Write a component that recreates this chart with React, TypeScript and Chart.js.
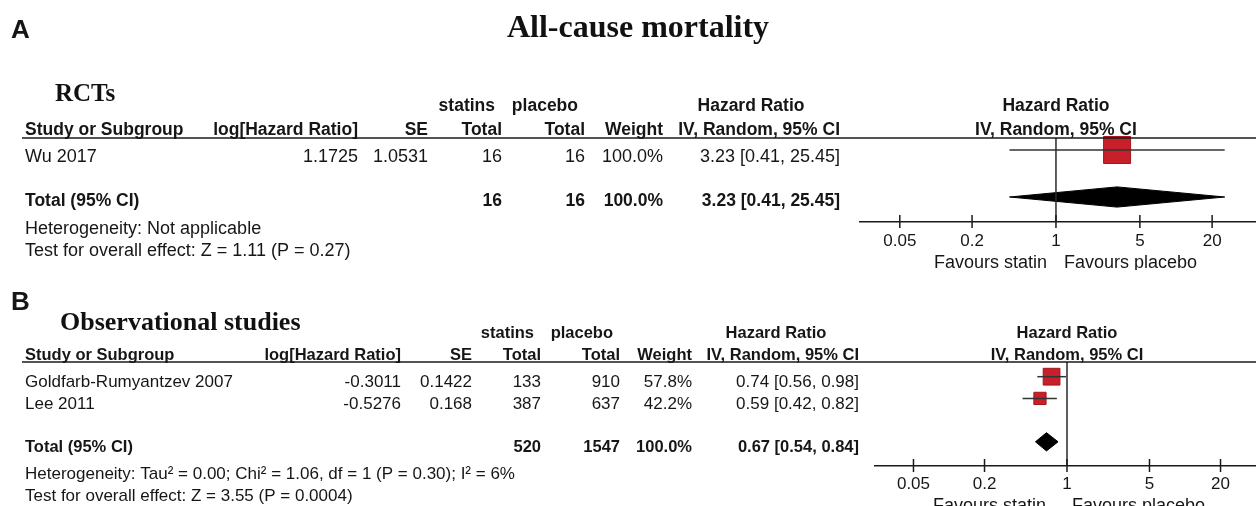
import React, { useEffect, useRef } from 'react';
import { Chart, registerables } from 'chart.js';

Chart.register(...registerables);

const SANS = '"Liberation Sans", Arial, sans-serif';
const SERIF = '"Liberation Serif", "Times New Roman", serif';

// ---------------- Data: panel A (RCTs) ----------------
const A_STUDIES = ['Wu 2017'];
const A_LOG_HR = ['1.1725'];
const A_SE = ['1.0531'];
const A_STATINS_N = [16];
const A_PLACEBO_N = [16];
const A_WEIGHT = [100.0];
const A_HR = [3.23];
const A_CI_LOW = [0.41];
const A_CI_HIGH = [25.45];
const A_TOTAL_N = [16, 16];
const A_TOTAL_WEIGHT = [100.0];
const A_TOTAL_HR = [3.23, 0.41, 25.45];
const A_HETEROGENEITY = 'Heterogeneity: Not applicable';
const A_OVERALL = 'Test for overall effect: Z = 1.11 (P = 0.27)';

// ---------------- Data: panel B (Observational studies) ----------------
const B_STUDIES = ['Goldfarb-Rumyantzev 2007', 'Lee 2011'];
const B_LOG_HR = ['-0.3011', '-0.5276'];
const B_SE = ['0.1422', '0.168'];
const B_STATINS_N = [133, 387];
const B_PLACEBO_N = [910, 637];
const B_WEIGHT = [57.8, 42.2];
const B_HR = [0.74, 0.59];
const B_CI_LOW = [0.56, 0.42];
const B_CI_HIGH = [0.98, 0.82];
const B_TOTAL_N = [520, 1547];
const B_TOTAL_WEIGHT = [100.0];
const B_TOTAL_HR = [0.67, 0.54, 0.84];
const B_HETEROGENEITY = 'Heterogeneity: Tau² = 0.00; Chi² = 1.06, df = 1 (P = 0.30); I² = 6%';
const B_OVERALL = 'Test for overall effect: Z = 3.55 (P = 0.0004)';

// ---------------- Shared labels ----------------
const X_TICKS = [0.05, 0.2, 1, 5, 20];
const MAIN_TITLE = 'All-cause mortality';
const COL_HEADERS = ['Study or Subgroup', 'log[Hazard Ratio]', 'SE', 'Total', 'Total', 'Weight', 'IV, Random, 95% CI'];
const GROUP_HEADERS = ['statins', 'placebo', 'Hazard Ratio'];
const PLOT_HEADERS = ['Hazard Ratio', 'IV, Random, 95% CI'];
const FAVOURS = ['Favours statin', 'Favours placebo'];
const TOTAL_LABEL = 'Total (95% CI)';

const DATA_A = {
  studies: A_STUDIES, logHr: A_LOG_HR, se: A_SE, statins: A_STATINS_N, placebo: A_PLACEBO_N,
  weight: A_WEIGHT, hr: A_HR, lo: A_CI_LOW, hi: A_CI_HIGH,
  totalN: A_TOTAL_N, totalWeight: A_TOTAL_WEIGHT, totalHr: A_TOTAL_HR,
  het: A_HETEROGENEITY, overall: A_OVERALL,
};
const DATA_B = {
  studies: B_STUDIES, logHr: B_LOG_HR, se: B_SE, statins: B_STATINS_N, placebo: B_PLACEBO_N,
  weight: B_WEIGHT, hr: B_HR, lo: B_CI_LOW, hi: B_CI_HIGH,
  totalN: B_TOTAL_N, totalWeight: B_TOTAL_WEIGHT, totalHr: B_TOTAL_HR,
  het: B_HETEROGENEITY, overall: B_OVERALL,
};

// ---------------- Layout (pixels) ----------------
const LAYOUT_A = {
  height: 270,
  letter: 'A', letterY: 29,
  showTitle: true, titleY: 26,
  section: 'RCTs', sectionX: 55, sectionY: 93, sectionSize: 25,
  plotLeft: 860, headerY: 138, axisY: 222,
  xMin: 0.0233, xMax: 46.4,
  yMin: -0.51, yMax: 3.064,
  cols: [358, 428, 502, 585, 663, 840],
  groupRight: [495, 578], hrCenter: 751,
  h1Y: 105, h2Y: 129,
  rowTextY0: 156, rowTextStep: 22, totalTextY: 200, hetY: 228, testY: 250,
  fontR: 18, fontB: 17.5, fontFav: 18, tickPad: 9, favoursY: 262, favoursGap: [9, 8],
  sq: 0.27, diamondHalf: 0.43,
};
const LAYOUT_B = {
  height: 236,
  letter: 'B', letterY: 31,
  showTitle: false, titleY: 0,
  section: 'Observational studies', sectionX: 60, sectionY: 51, sectionSize: 26,
  plotLeft: 875, headerY: 92, axisY: 196,
  xMin: 0.0236, xMax: 39.96,
  yMin: -0.677, yMax: 4.115,
  cols: [401, 472, 541, 620, 692, 859],
  groupRight: [534, 613], hrCenter: 776,
  h1Y: 62, h2Y: 84,
  rowTextY0: 111, rowTextStep: 22, totalTextY: 176, hetY: 203, testY: 225,
  fontR: 17, fontB: 16.5, fontFav: 18, tickPad: 8, favoursY: 235, favoursGap: [21, 5],
  sq: 0.29, diamondHalf: 0.42,
};

const TEXT = '#161616';

function txt(ctx, s, x, cy, size, opts: any = {}) {
  const family = opts.family || SANS;
  const weight = opts.bold ? 'bold ' : '';
  ctx.font = `${weight}${size}px ${family}`;
  ctx.fillStyle = opts.color || TEXT;
  ctx.textAlign = opts.align || 'left';
  ctx.textBaseline = 'alphabetic';
  const cap = family === SERIF ? 0.662 : 0.716;
  ctx.fillText(s, x, cy + (cap * size) / 2);
}

function hline(ctx, x0, y0, x1, y1, w = 1.5, color = '#1a1a1a') {
  ctx.beginPath();
  ctx.strokeStyle = color;
  ctx.lineWidth = w;
  ctx.moveTo(x0, y0);
  ctx.lineTo(x1, y1);
  ctx.stroke();
}

const fmtHr = (v: number[]) => `${v[0].toFixed(2)} [${v[1].toFixed(2)}, ${v[2].toFixed(2)}]`;

function makeTextPlugin(D, L) {
  return {
    id: 'forestText',
    afterDraw(chart) {
      const ctx = chart.ctx;
      const xs = chart.scales.x;
      const area = chart.chartArea;
      const x1 = xs.getPixelForValue(1);
      const W = chart.width;
      const R = L.fontR;
      const HB = L.fontB;
      ctx.save();
      // panel letter, titles
      txt(ctx, L.letter, 11, L.letterY, 26, { bold: true });
      if (L.showTitle) txt(ctx, MAIN_TITLE, 638, L.titleY, 32, { bold: true, family: SERIF, align: 'center', color: '#111' });
      txt(ctx, L.section, L.sectionX, L.sectionY, L.sectionSize, { bold: true, family: SERIF, color: '#111' });

      // header line
      hline(ctx, 22, L.headerY, W, L.headerY, 1.5);

      // header row 1
      txt(ctx, GROUP_HEADERS[0], L.groupRight[0], L.h1Y, HB, { bold: true, align: 'right' });
      txt(ctx, GROUP_HEADERS[1], L.groupRight[1], L.h1Y, HB, { bold: true, align: 'right' });
      txt(ctx, GROUP_HEADERS[2], L.hrCenter, L.h1Y, HB, { bold: true, align: 'center' });
      txt(ctx, PLOT_HEADERS[0], x1, L.h1Y, HB, { bold: true, align: 'center' });
      // header row 2
      txt(ctx, COL_HEADERS[0], 25, L.h2Y, HB, { bold: true });
      for (let c = 1; c < COL_HEADERS.length; c++) {
        txt(ctx, COL_HEADERS[c], L.cols[c - 1], L.h2Y, HB, { bold: true, align: 'right' });
      }
      txt(ctx, PLOT_HEADERS[1], x1, L.h2Y, HB, { bold: true, align: 'center' });

      // study rows
      D.studies.forEach((name, i) => {
        const y = L.rowTextY0 + i * L.rowTextStep;
        txt(ctx, name, 25, y, R);
        txt(ctx, D.logHr[i], L.cols[0], y, R, { align: 'right' });
        txt(ctx, D.se[i], L.cols[1], y, R, { align: 'right' });
        txt(ctx, String(D.statins[i]), L.cols[2], y, R, { align: 'right' });
        txt(ctx, String(D.placebo[i]), L.cols[3], y, R, { align: 'right' });
        txt(ctx, `${D.weight[i].toFixed(1)}%`, L.cols[4], y, R, { align: 'right' });
        txt(ctx, fmtHr([D.hr[i], D.lo[i], D.hi[i]]), L.cols[5], y, R, { align: 'right' });
      });

      // total row
      const ty = L.totalTextY;
      txt(ctx, TOTAL_LABEL, 25, ty, HB, { bold: true });
      txt(ctx, String(D.totalN[0]), L.cols[2], ty, HB, { bold: true, align: 'right' });
      txt(ctx, String(D.totalN[1]), L.cols[3], ty, HB, { bold: true, align: 'right' });
      txt(ctx, `${D.totalWeight[0].toFixed(1)}%`, L.cols[4], ty, HB, { bold: true, align: 'right' });
      txt(ctx, fmtHr(D.totalHr), L.cols[5], ty, HB, { bold: true, align: 'right' });

      txt(ctx, D.het, 25, L.hetY, R);
      txt(ctx, D.overall, 25, L.testY, R);

      // tick marks crossing the axis
      xs.ticks.forEach((t) => {
        const x = xs.getPixelForValue(t.value);
        hline(ctx, x, area.bottom - 7, x, area.bottom + 6, 1.5);
      });

      // favours labels
      txt(ctx, FAVOURS[0], x1 - L.favoursGap[0], L.favoursY, L.fontFav, { align: 'right' });
      txt(ctx, FAVOURS[1], x1 + L.favoursGap[1], L.favoursY, L.fontFav, { align: 'left' });
      ctx.restore();
    },
  };
}

function buildChart(canvas: HTMLCanvasElement, D, L) {
  const n = D.studies.length;
  const totalRow = n + 1;
  const [th, tlo, thi] = D.totalHr;
  const h = L.diamondHalf;

  const datasets: any[] = [
    {
      label: 'null',
      data: [{ x: 1, y: L.yMin }, { x: 1, y: L.yMax }],
      borderColor: '#2a2a2a', borderWidth: 1.5, pointRadius: 0, clip: false,
    },
    ...D.studies.map((s, i) => ({
      label: `ci-${s}`,
      data: [{ x: D.lo[i], y: i }, { x: D.hi[i], y: i }],
      borderColor: '#333', borderWidth: 1.5, pointRadius: 0, clip: false,
    })),
    {
      label: 'estimates',
      data: D.hr.map((v, i) => ({ x: v, y: i })),
      showLine: false,
      pointStyle: 'rect',
      pointRadius: D.weight.map((w) => (w * L.sq) / Math.SQRT2),
      pointBackgroundColor: '#c8202a',
      pointBorderColor: '#a3161d',
      pointBorderWidth: 1,
      clip: false,
    },
    {
      label: 'total',
      data: [
        { x: tlo, y: totalRow },
        { x: th, y: totalRow - h },
        { x: thi, y: totalRow },
        { x: th, y: totalRow + h },
        { x: tlo, y: totalRow },
      ],
      fill: 'shape',
      backgroundColor: '#000',
      borderColor: '#000',
      borderWidth: 1,
      borderJoinStyle: 'round',
      pointRadius: 0,
      clip: false,
    },
  ];

  return new Chart(canvas, {
    type: 'line',
    data: { datasets },
    options: {
      responsive: false,
      maintainAspectRatio: false,
      animation: false,
      events: [],
      layout: { autoPadding: false, padding: { left: L.plotLeft, top: L.headerY, right: 0, bottom: 0 } },
      plugins: { legend: { display: false }, tooltip: { enabled: false }, title: { display: false } },
      scales: {
        x: {
          type: 'logarithmic',
          position: 'bottom',
          min: L.xMin,
          max: L.xMax,
          afterBuildTicks: (s) => { s.ticks = X_TICKS.map((v) => ({ value: v })); },
          afterFit: (s) => { s.height = L.height - L.axisY; },
          grid: { display: false, drawTicks: false },
          border: { display: true, color: '#1a1a1a', width: 1.5 },
          ticks: {
            autoSkip: false,
            maxRotation: 0,
            padding: L.tickPad,
            color: TEXT,
            font: { family: SANS, size: 17 },
            callback: (v) => String(v),
          },
        },
        y: { type: 'linear', reverse: true, min: L.yMin, max: L.yMax, display: false },
      },
    },
    plugins: [makeTextPlugin(D, L)],
  });
}

function Panel({ data, layout }) {
  const ref = useRef<HTMLCanvasElement | null>(null);
  useEffect(() => {
    if (!ref.current) return;
    const chart = buildChart(ref.current, data, layout);
    return () => chart.destroy();
  }, [data, layout]);
  return <canvas ref={ref} width={1256} height={layout.height} style={{ display: 'block', width: 1256, height: layout.height }} />;
}

export default function App() {
  return (
    <div style={{ position: 'absolute', left: 0, top: 0, width: 1256, height: 506, background: '#fff', overflow: 'hidden' }}>
      <Panel data={DATA_A} layout={LAYOUT_A} />
      <Panel data={DATA_B} layout={LAYOUT_B} />
    </div>
  );
}
